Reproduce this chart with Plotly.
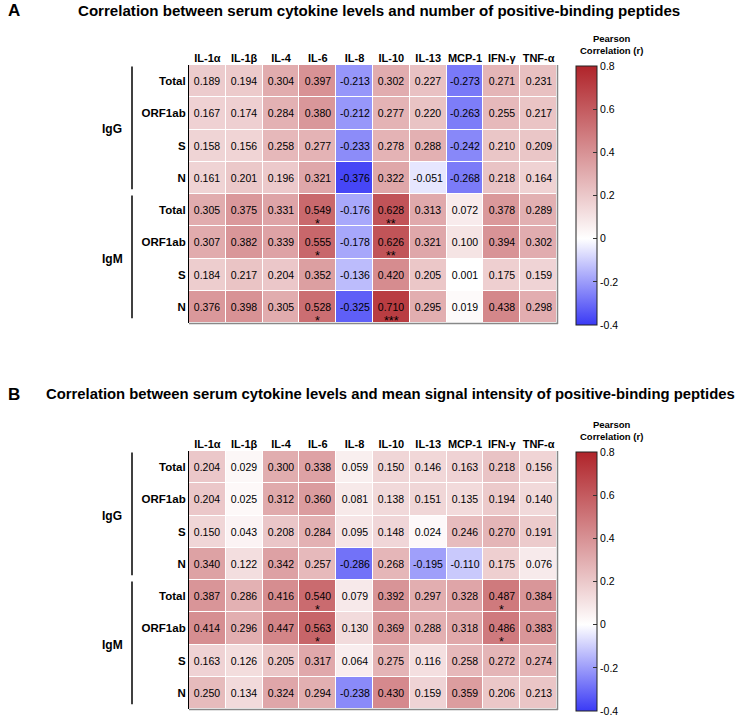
import plotly.graph_objects as go

cytokines = ["IL-1α", "IL-1β", "IL-4", "IL-6", "IL-8", "IL-10", "IL-13", "MCP-1", "IFN-γ", "TNF-α"]
row_labels = ["Total", "ORF1ab", "S", "N", "Total", "ORF1ab", "S", "N"]
groups = ["IgG", "IgM"]

title_a = "Correlation between serum cytokine levels and number of positive-binding peptides"
title_b = "Correlation between serum cytokine levels and mean signal intensity of positive-binding peptides"

z_a = [
    [0.189, 0.194, 0.304, 0.397, -0.213, 0.302, 0.227, -0.273, 0.271, 0.231],
    [0.167, 0.174, 0.284, 0.380, -0.212, 0.277, 0.220, -0.263, 0.255, 0.217],
    [0.158, 0.156, 0.258, 0.277, -0.233, 0.278, 0.288, -0.242, 0.210, 0.209],
    [0.161, 0.201, 0.196, 0.321, -0.376, 0.322, -0.051, -0.268, 0.218, 0.164],
    [0.305, 0.375, 0.331, 0.549, -0.176, 0.628, 0.313, 0.072, 0.378, 0.289],
    [0.307, 0.382, 0.339, 0.555, -0.178, 0.626, 0.321, 0.100, 0.394, 0.302],
    [0.184, 0.217, 0.204, 0.352, -0.136, 0.420, 0.205, 0.001, 0.175, 0.159],
    [0.376, 0.398, 0.305, 0.528, -0.325, 0.710, 0.295, 0.019, 0.438, 0.298],
]
z_b = [
    [0.204, 0.029, 0.300, 0.338, 0.059, 0.150, 0.146, 0.163, 0.218, 0.156],
    [0.204, 0.025, 0.312, 0.360, 0.081, 0.138, 0.151, 0.135, 0.194, 0.140],
    [0.150, 0.043, 0.208, 0.284, 0.095, 0.148, 0.024, 0.246, 0.270, 0.191],
    [0.340, 0.122, 0.342, 0.257, -0.286, 0.268, -0.195, -0.110, 0.175, 0.076],
    [0.387, 0.286, 0.416, 0.540, 0.079, 0.392, 0.297, 0.328, 0.487, 0.384],
    [0.414, 0.296, 0.447, 0.563, 0.130, 0.369, 0.288, 0.318, 0.486, 0.383],
    [0.163, 0.126, 0.205, 0.317, 0.064, 0.275, 0.116, 0.258, 0.272, 0.274],
    [0.250, 0.134, 0.324, 0.294, -0.238, 0.430, 0.159, 0.359, 0.206, 0.213],
]
# significance stars: (row index, cytokine, stars)
stars_a = [(4, "IL-6", "*"), (4, "IL-10", "**"), (5, "IL-6", "*"), (5, "IL-10", "**"),
           (7, "IL-6", "*"), (7, "IL-10", "***")]
stars_b = [(4, "IL-6", "*"), (4, "IFN-γ", "*"), (5, "IL-6", "*"), (5, "IFN-γ", "*")]

cb_ticks = [-0.4, -0.2, 0, 0.2, 0.4, 0.6, 0.8]
cb_text = ["-0.4", "-0.2", "0", "0.2", "0.4", "0.6", "0.8"]

FONT = "Liberation Sans, Arial, Helvetica, sans-serif"
W, H = 739, 717
colorscale = [[0.0, "rgb(58,58,245)"], [1/3, "rgb(255,255,255)"], [1.0, "rgb(176,36,42)"]]

rows_idx = list(range(len(row_labels)))

fig = go.Figure()
for z, xa, ya, ca in [(z_a, "x", "y", "coloraxis"), (z_b, "x2", "y2", "coloraxis2")]:
    fig.add_trace(go.Heatmap(
        z=z, x=cytokines, y=rows_idx, xaxis=xa, yaxis=ya, coloraxis=ca,
        xgap=1, ygap=1, texttemplate="%{z:.3f}",
        textfont=dict(family=FONT, size=10.5, color="black"),
        hoverinfo="z",
    ))


def px_x(p):
    return p / W


def px_y(p):
    return (H - p) / H


panels = [
    ("xaxis", "yaxis", 65, 323, "coloraxis"),
    ("xaxis2", "yaxis2", 451, 709, "coloraxis2"),
]
layout = dict(
    width=W, height=H, margin=dict(l=0, r=0, t=0, b=0, autoexpand=False),
    paper_bgcolor="white", plot_bgcolor="white",
    font=dict(family=FONT, color="black"),
    showlegend=False,
)
for xa, ya, top, bot, ca in panels:
    layout[xa] = dict(domain=[px_x(189), px_x(557)], anchor=ya.replace("axis", ""), side="top",
                      showgrid=False, zeroline=False, ticks="",
                      tickfont=dict(family=FONT, size=11, color="black", weight="bold"),
                      fixedrange=True)
    layout[ya] = dict(domain=[px_y(bot), px_y(top)], anchor=xa.replace("axis", ""),
                      autorange="reversed", tickvals=rows_idx, ticktext=row_labels,
                      showgrid=False, zeroline=False, ticks="", showline=True,
                      linecolor="black", linewidth=1,
                      tickfont=dict(family=FONT, size=11.5, color="black", weight="bold"),
                      fixedrange=True)
    layout[ca] = dict(
        cmin=-0.4, cmax=0.8, colorscale=colorscale,
        colorbar=dict(
            x=px_x(576), xanchor="left", xpad=0, ypad=0,
            y=px_y((top + bot) / 2 + 1.5), yanchor="middle",
            lenmode="pixels", len=bot - top + 1, thickness=21,
            thicknessmode="pixels",
            outlinewidth=1, outlinecolor="#222",
            tickvals=cb_ticks, ticktext=cb_text, ticks="inside", ticklen=4,
            tickcolor="#333",
            tickfont=dict(family=FONT, size=10.5, color="black"),
        ),
    )
fig.update_layout(**layout)

# right / bottom border of heatmaps
for top, bot in [(65, 323), (451, 709)]:
    fig.add_shape(type="line", xref="paper", yref="paper", x0=px_x(557.5), x1=px_x(557.5),
                  y0=px_y(bot + 1), y1=px_y(top), line=dict(color="#888", width=1.5))
    fig.add_shape(type="line", xref="paper", yref="paper", x0=px_x(189), x1=px_x(558),
                  y0=px_y(bot + 0.5), y1=px_y(bot + 0.5), line=dict(color="#888", width=1.5))

# stars
for stars, xr, yr in [(stars_a, "x", "y"), (stars_b, "x2", "y2")]:
    for r, c, s in stars:
        fig.add_annotation(x=c, y=r, xref=xr, yref=yr, text=s, showarrow=False,
                           yshift=-14, font=dict(family=FONT, size=12.5, color="black"))

# group labels and brackets
for yr in ["y", "y2"]:
    for gi, g in enumerate(groups):
        start, end = gi * 4, gi * 4 + 3
        fig.add_annotation(x=px_x(112), xref="paper", y=(start + end) / 2, yref=yr,
                           text=g, showarrow=False, xanchor="center",
                           font=dict(family=FONT, size=12, color="black", weight="bold"))
        fig.add_shape(type="line", xref="paper", yref=yr, x0=px_x(132), x1=px_x(132),
                      y0=start - 0.45, y1=end + 0.35, line=dict(color="black", width=1.5))

# panel letters and titles
for letter, title, ypx, tx, fs in [("A", title_a, 10, 379, 15.1), ("B", title_b, 394, 390, 14.85)]:
    fig.add_annotation(x=px_x(6), xref="paper", y=px_y(ypx), yref="paper", text=letter,
                       showarrow=False, xanchor="left", yanchor="middle",
                       font=dict(family=FONT, size=17, color="black", weight="bold"))
    fig.add_annotation(x=px_x(tx), xref="paper", y=px_y(ypx), yref="paper", text=title,
                       showarrow=False, xanchor="center", yanchor="middle",
                       font=dict(family=FONT, size=fs, color="black", weight="bold"))

for ypx in [44, 430]:
    fig.add_annotation(x=px_x(611), xref="paper", y=px_y(ypx), yref="paper",
                       text="Pearson<br>Correlation (r)", showarrow=False,
                       xanchor="center", yanchor="middle",
                       font=dict(family=FONT, size=9.5, color="black", weight="bold"))

fig.write_html("out.html", config={"displayModeBar": False},
               post_script="document.body.style.margin='0';")
